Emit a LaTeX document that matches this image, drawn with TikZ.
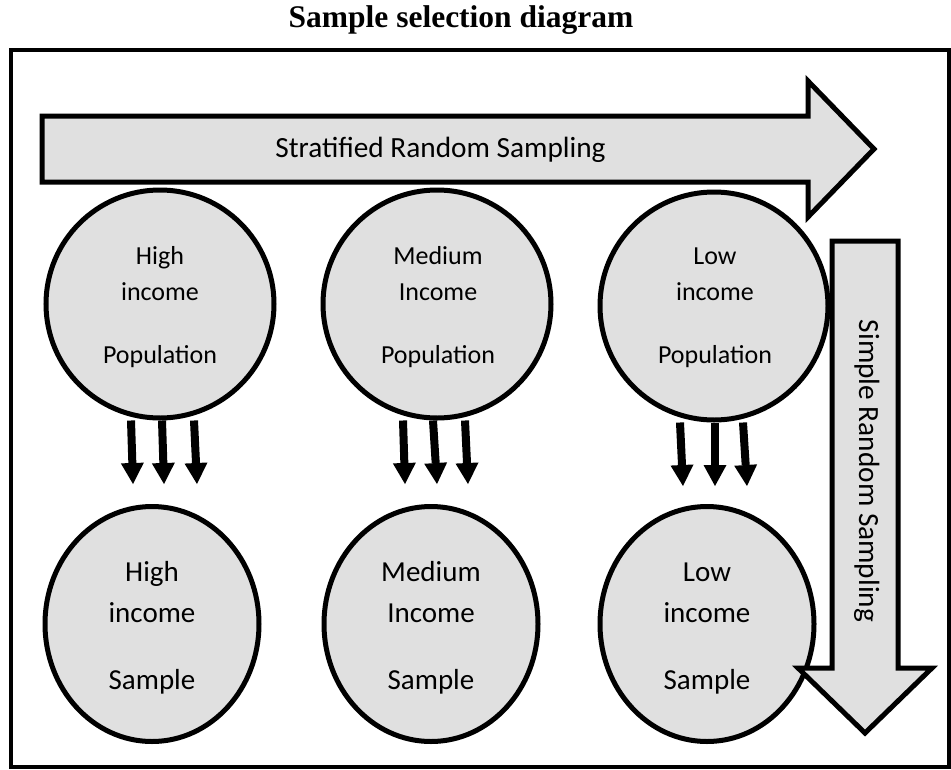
\documentclass[tikz,border=0pt]{standalone}
\usepackage{fontspec}
\setmainfont{Carlito}
\newfontfamily\headfont{Liberation Serif}
\usetikzlibrary{arrows.meta,shapes.geometric,calc}
\definecolor{shade}{RGB}{224,224,224}
\begin{document}
\begin{tikzpicture}[x=1pt,y=-1pt,
  shapeline/.style={draw=black,line width=5pt,fill=shade,line join=miter,miter limit=10},
  popcircle/.style={shapeline,circle,minimum size=228pt,inner sep=0pt},
  samplecircle/.style={shapeline,ellipse,minimum width=214pt,minimum height=235pt,inner sep=0pt},
  poptext/.style={font=\fontsize{26}{31}\selectfont,anchor=base,inner sep=0pt},
  sampletext/.style={font=\fontsize{29}{35}\selectfont,anchor=base,inner sep=0pt},
  bandtext/.style={font=\fontsize{29.3}{35}\selectfont,anchor=base,inner sep=0pt},
  fatarrow/.style={line width=8pt,-{Triangle[length=21pt,width=23pt,line width=0pt]}}]

\useasboundingbox (0,0) rectangle (951,769);

% title and frame
\node[font=\headfont\bfseries\fontsize{31.5}{38}\selectfont,anchor=base,inner sep=0pt]
  (title) at (461,27) {Sample selection diagram};
\draw[line width=4.3pt] (11,50) rectangle (949,767);

% horizontal band arrow
\draw[shapeline] (42,116) -- (808,116) -- (808,81) -- (874,149) -- (808,217)
  -- (808,182) -- (42,182) -- cycle;
\node[bandtext] (strat) at (440.5,157) {Stratified Random Sampling};

% population strata
\node[popcircle] (hp) at (160,304) {};
\node[popcircle] (mp) at (437,304) {};
\node[popcircle] (lp) at (714,306) {};

% samples
\node[samplecircle] (hs) at (152,624) {};
\node[samplecircle] (ms) at (431,624) {};
\node[samplecircle] (ls) at (707,624) {};

% vertical band arrow
\draw[shapeline] (832,241) -- (898,241) -- (898,668) -- (932,668) -- (865,733)
  -- (798,668) -- (832,668) -- cycle;
\node[bandtext,rotate=-90] (simple) at (859,471) {Simple Random Sampling};

% circle labels
\node[poptext] (hp1) at (160,264) {High};
\node[poptext] (hp2) at (160,300) {income};
\node[poptext] (hp3) at (160,363) {Population};
\node[poptext] (mp1) at (438,264) {Medium};
\node[poptext] (mp2) at (438,300) {Income};
\node[poptext] (mp3) at (438,363) {Population};
\node[poptext] (lp1) at (715,264) {Low};
\node[poptext] (lp2) at (715,300) {income};
\node[poptext] (lp3) at (715,363) {Population};

\node[sampletext] (hs1) at (152,581) {High};
\node[sampletext] (hs2) at (152,622) {income};
\node[sampletext] (hs3) at (152,689) {Sample};
\node[sampletext] (ms1) at (431,581) {Medium};
\node[sampletext] (ms2) at (431,622) {Income};
\node[sampletext] (ms3) at (431,689) {Sample};
\node[sampletext] (ls1) at (707,581) {Low};
\node[sampletext] (ls2) at (707,622) {income};
\node[sampletext] (ls3) at (707,689) {Sample};

% selection arrows from each stratum to its sample
\draw[fatarrow] ($(hp.south)+(-29,0)$) -- ($(hs.north)+(-19,-20)$);
\draw[fatarrow] ($(hp.south)+(2,0)$)   -- ($(hs.north)+(12,-20)$);
\draw[fatarrow] ($(hp.south)+(34,0)$)  -- ($(hs.north)+(45,-20)$);

\draw[fatarrow] ($(mp.south)+(-34,0)$) -- ($(ms.north)+(-26,-20)$);
\draw[fatarrow] ($(mp.south)+(-4,0)$)  -- ($(ms.north)+(6,-20)$);
\draw[fatarrow] ($(mp.south)+(28,0)$)  -- ($(ms.north)+(37,-20)$);

\draw[fatarrow] ($(lp.south)+(-34,0)$) -- ($(ls.north)+(-24,-18)$);
\draw[fatarrow] ($(lp.south)+(1,0)$)   -- ($(ls.north)+(8,-18)$);
\draw[fatarrow] ($(lp.south)+(29,0)$)  -- ($(ls.north)+(40,-18)$);
\end{tikzpicture}
\end{document}
